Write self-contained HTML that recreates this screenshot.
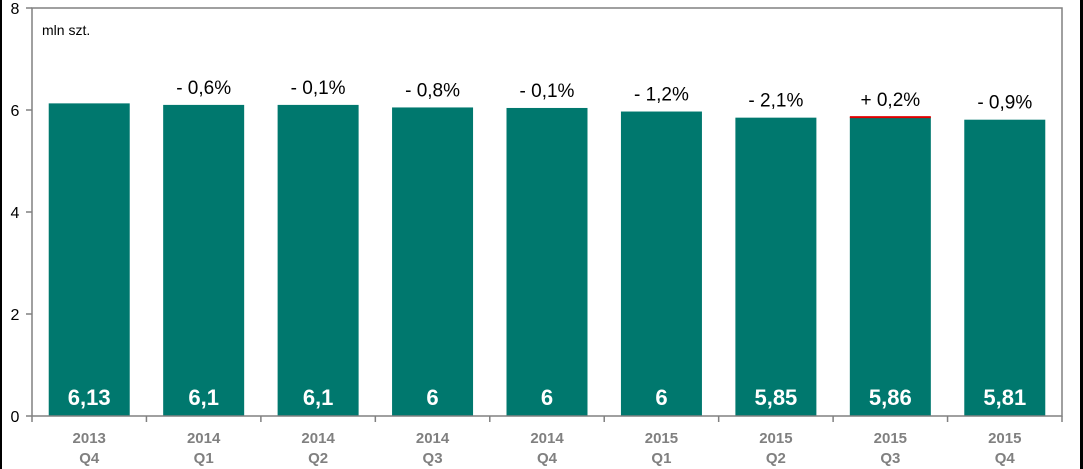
<!DOCTYPE html>
<html><head><meta charset="utf-8"><style>
body{margin:0;background:#fff;}
svg{display:block;font-family:"Liberation Sans",Arial,sans-serif;}
</style></head><body>
<svg id="chart" width="1083" height="469">
<rect x="0" y="0" width="2" height="469" fill="#000"/>
<rect x="1080" y="0" width="3" height="469" fill="#000"/>
<text x="42" y="35" font-size="14" fill="#000">mln szt.</text>
<g id="bars"></g>
<g id="axes"></g>
</svg>
<script>
const categories = ["2013|Q4","2014|Q1","2014|Q2","2014|Q3","2014|Q4","2015|Q1","2015|Q2","2015|Q3","2015|Q4"];
const values = [6.13,6.10,6.10,6.05,6.04,5.97,5.85,5.86,5.81];
const valueLabels = ["6,13","6,1","6,1","6","6","6","5,85","5,86","5,81"];
const changeLabels = ["","- 0,6%","- 0,1%","- 0,8%","- 0,1%","- 1,2%","- 2,1%","+ 0,2%","- 0,9%"];
const yTicks = [0,2,4,6,8];
const NS="http://www.w3.org/2000/svg";
const L=32,R=1062,T=8,B=416,yMax=8;
const bw=(R-L)/categories.length;
const y=v=>B-(v/yMax)*(B-T);
const x=i=>L+bw*i+bw/2;
function mk(tag,attrs,parent){const e=document.createElementNS(NS,tag);for(const k in attrs)e.setAttribute(k,attrs[k]);parent.appendChild(e);return e;}
const bars=document.getElementById('bars'),axes=document.getElementById('axes');
values.forEach((v,i)=>{
  const r=mk('rect',{x:x(i)-40.5,y:y(v),width:81,height:B-y(v),fill:'#00786e'},bars);
  
  
  if(changeLabels[i].startsWith('+')){
    const ln=mk('rect',{x:x(i)-40.5,y:y(v)-1,width:81,height:2,fill:'#e00000'},bars);
    
    
  }
  const t=mk('text',{x:x(i),y:B-11,'text-anchor':'middle','font-size':22,'font-weight':'bold',fill:'#fff'},bars);
  t.textContent=valueLabels[i];
  
  
  if(changeLabels[i]){
    const c=mk('text',{x:x(i),y:y(v)-11,'text-anchor':'middle','font-size':19,fill:'#000'},bars);
    c.textContent=changeLabels[i];
    
    
  }
  const parts=categories[i].split('|');
  const a=mk('text',{x:x(i),y:443,'text-anchor':'middle','font-size':15,'font-weight':'bold',fill:'#808080'},axes);
  a.textContent=parts[0];
  
  
  const b=mk('text',{x:x(i),y:463,'text-anchor':'middle','font-size':15,'font-weight':'bold',fill:'#808080'},axes);
  b.textContent=parts[1];
  
  
});
const frame=mk('rect',{x:L,y:T,width:R-L,height:B-T,fill:'none',stroke:'#808080','stroke-width':1.5},axes);


for(let i=0;i<=categories.length;i++){
  const tk=mk('line',{x1:L+bw*i,x2:L+bw*i,y1:B,y2:B+6,stroke:'#808080','stroke-width':1.5},axes);
  
  
}
yTicks.forEach(v=>{
  const tk=mk('line',{x1:L-6,x2:L,y1:y(v),y2:y(v),stroke:'#808080','stroke-width':1.5},axes);
  
  
  const t=mk('text',{x:15,y:y(v)+6,'text-anchor':'middle','font-size':16,fill:'#000'},axes);
  t.textContent=v;
  
  
});
</script>
</body></html>
